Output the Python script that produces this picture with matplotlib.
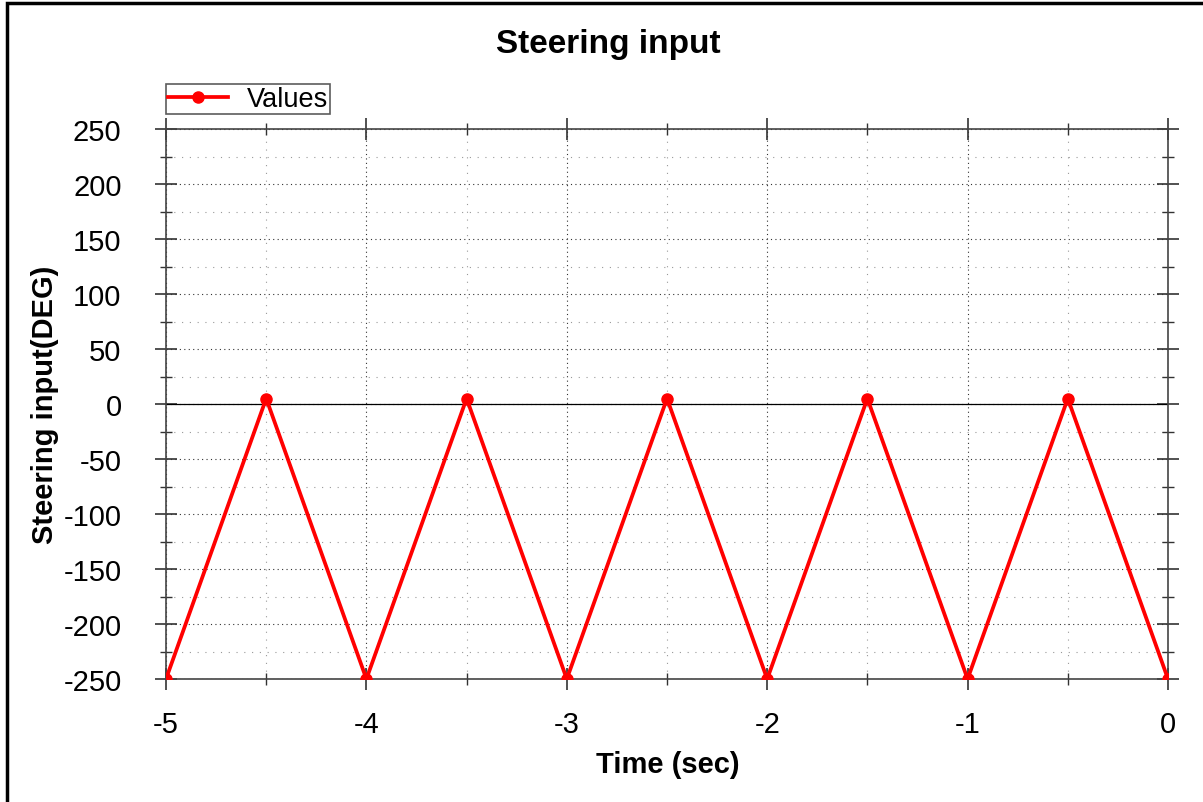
import matplotlib.pyplot as plt
from matplotlib.ticker import MultipleLocator
from matplotlib.patches import Rectangle

plt.rcParams['font.family'] = ['Liberation Sans', 'DejaVu Sans']
plt.rcParams['axes.unicode_minus'] = False

# data
time_sec = [-5, -4.5, -4, -3.5, -3, -2.5, -2, -1.5, -1, -0.5, 0]
steering_deg = [-250, 5, -250, 5, -250, 5, -250, 5, -250, 5, -250]

fig = plt.figure(figsize=(12.03, 8.03), dpi=100)
ax = fig.add_axes([166 / 1203, 1 - 680 / 803, (1168 - 166) / 1203, (680 - 130) / 803])

# outer frame of the window
fig.patches.append(Rectangle((7 / 1203, -0.1), 1.2, 1 - 4 / 803 + 0.1,
                             transform=fig.transFigure, fill=False,
                             edgecolor='black', linewidth=2.5))

ax.plot(time_sec, steering_deg, color='red', linewidth=2.7, marker='o',
        markersize=8, label='Values', clip_on=True, zorder=3)
ax.axhline(0, color='black', linewidth=0.9, zorder=2)

ax.set_xlim(-5, 0)
ax.set_ylim(-250, 250)
ax.xaxis.set_major_locator(MultipleLocator(1))
ax.xaxis.set_minor_locator(MultipleLocator(0.5))
ax.yaxis.set_major_locator(MultipleLocator(50))
ax.yaxis.set_minor_locator(MultipleLocator(25))

ax.grid(which='major', color='#333333', linestyle=(0, (1, 3)), linewidth=0.8)
ax.grid(which='minor', color='#999999', linestyle=(0, (1, 6)), linewidth=0.8)

ax.tick_params(which='major', direction='inout', length=16, width=1.2,
               labelsize=21, top=True, right=True, color='#333333', pad=24)
ax.tick_params(which='minor', direction='inout', length=8, width=1,
               top=True, right=True, color='#333333')
ax.tick_params(axis='x', which='major', pad=14)
for s in ax.spines.values():
    s.set_color('#444444')
    s.set_linewidth(1.2)

fig.text(608 / 1203, 1 - 45 / 803, 'Steering input', fontsize=24,
         fontweight='bold', ha='center', va='center')
fig.text(668 / 1203, 1 - 765 / 803, 'Time (sec)', fontsize=21,
         fontweight='bold', ha='center', va='center')
fig.text(45 / 1203, 1 - 405 / 803, 'Steering input(DEG)', fontsize=21,
         fontweight='bold', ha='center', va='center', rotation=90)

leg = ax.legend(loc='lower left', bbox_to_anchor=(0, 1.027), fontsize=19.5,
                frameon=True, fancybox=False, edgecolor='#333333',
                handlelength=2.2, borderpad=0.08, borderaxespad=0,
                handletextpad=0.7)
leg.get_frame().set_linewidth(1.2)

fig.savefig('out.png', dpi=100)
